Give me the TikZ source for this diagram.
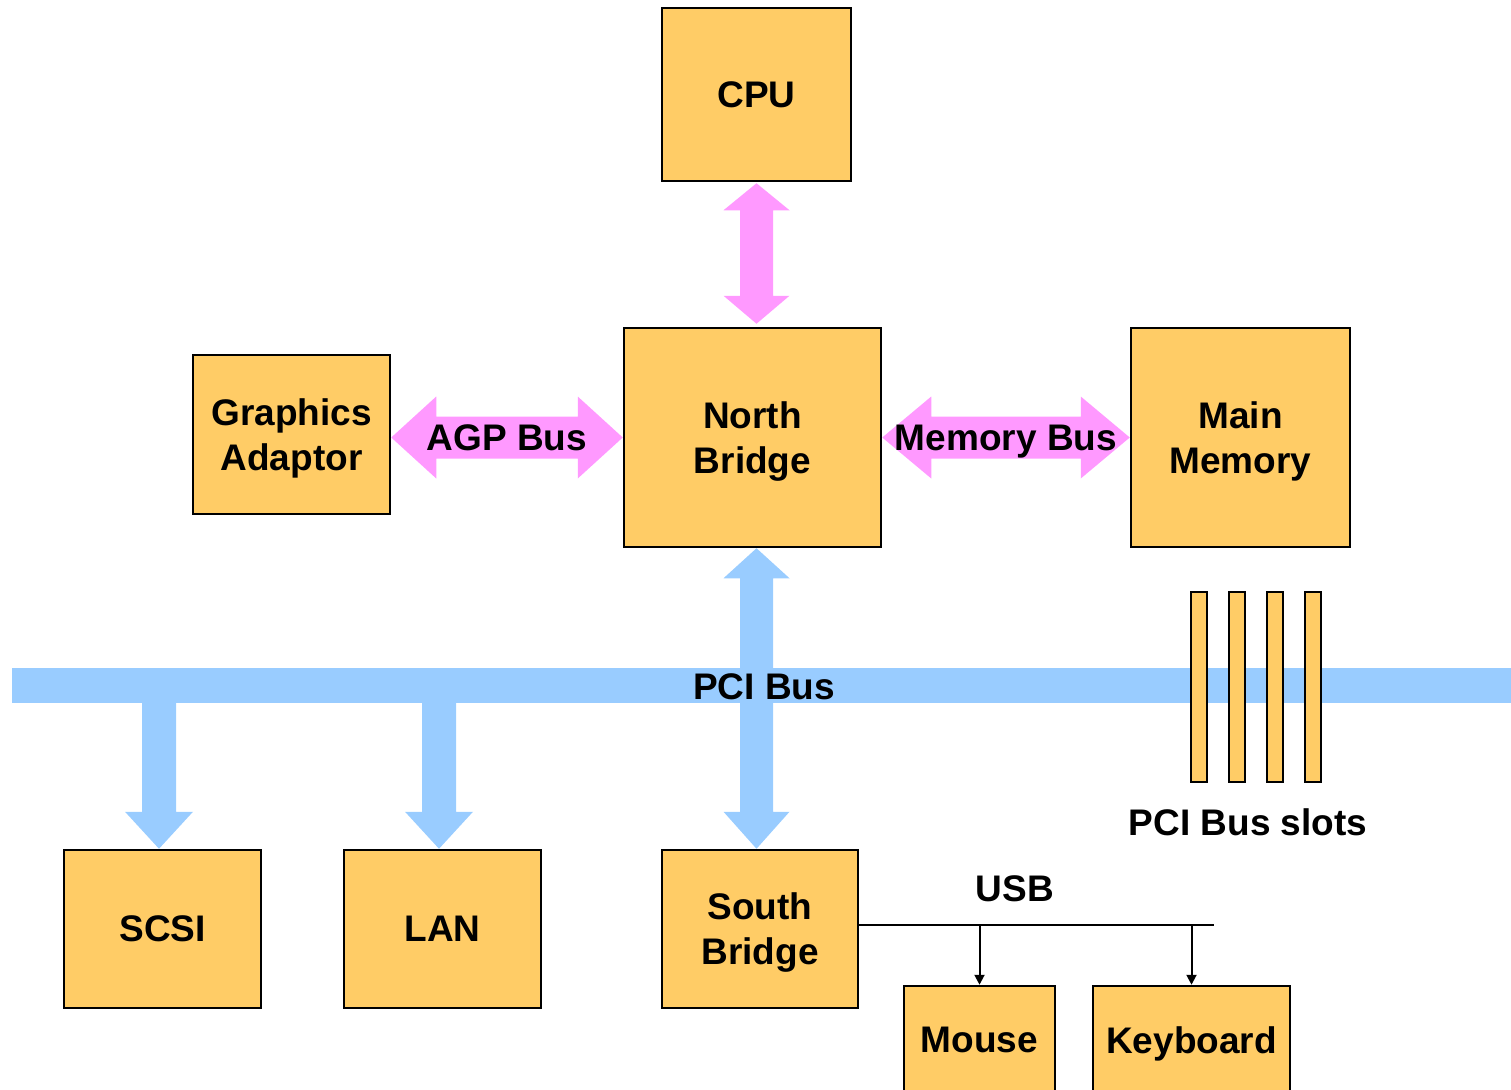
\documentclass[tikz,border=0pt]{standalone}
\usepackage{fontspec}
\setmainfont{Liberation Sans}
\usetikzlibrary{calc,arrows.meta}
\definecolor{boxfill}{HTML}{FFCC66}
\definecolor{pinkbus}{HTML}{FF99FF}
\definecolor{bluebus}{HTML}{99CCFF}
\begin{document}
\begin{tikzpicture}[x=1pt,y=-1pt,
  box/.style={draw=black, line width=2.5pt, fill=boxfill, inner sep=0pt, align=center,
    text depth=0pt, font=\fontsize{37}{45}\selectfont\bfseries},
  slotbox/.style={draw=black, line width=2pt, fill=boxfill, inner sep=0pt,
    minimum width=16pt, minimum height=190pt},
  lbl/.style={inner sep=0pt, text depth=0pt, font=\fontsize{37}{45}\selectfont\bfseries},
  usbline/.style={draw=black, line width=2pt},
  usbarrow/.style={usbline, -{Triangle[length=10pt,width=10pt]}}]
\useasboundingbox (0,0) rectangle (1511,1089);
\clip (0,0) rectangle (1511,1089);

% boxes
\node[box, minimum width=189pt, minimum height=173pt] (cpu) at (756.5,94.5) {CPU};
\node[box, minimum width=257pt, minimum height=219pt] (nb) at (752.5,437.5) {North\\Bridge};
\node[box, minimum width=197pt, minimum height=159pt] (ga) at (291.5,434.5) {Graphics\\Adaptor};
\node[box, minimum width=219pt, minimum height=219pt] (mm) at (1240.5,437.5) {Main\\Memory};
\node[box, minimum width=197pt, minimum height=158pt] (scsi) at (162.5,929) {SCSI};
\node[box, minimum width=197pt, minimum height=158pt] (lan) at (442.5,929) {LAN};
\node[box, minimum width=196pt, minimum height=158pt] (sb) at (760,929) {South\\Bridge};
\node[box, minimum width=151pt, minimum height=108pt] (mouse) at (979.5,1040) {Mouse};
\node[box, minimum width=197pt, minimum height=108pt] (kb) at (1191.5,1040) {Keyboard};

% CPU <-> North Bridge
\coordinate (cs) at ($(cpu.south)+(0,1)$);
\coordinate (nn) at ($(cpu.south |- nb.north)+(0,-3)$);
\fill[pinkbus] (cs) -- ++(33,27) -- ++(-16.5,0)
  -- ($(nn)+(16.5,-28)$) -- ++(16.5,0) -- (nn)
  -- ++(-33,-28) -- ++(16.5,0) -- ($(cs)+(-16.5,27)$) -- ++(-16.5,0) -- cycle;

% AGP bus
\fill[pinkbus] (ga.east |- nb.west) -- ++(45,-41) -- ++(0,20)
  -- ($(nb.west)+(-45,-21)$) -- ++(0,-20) -- (nb.west)
  -- ++(-45,41) -- ++(0,-20) -- ($(ga.east |- nb.west)+(45,21)$) -- ++(0,20) -- cycle;
\node[lbl] (agp) at (507,438) {AGP Bus};

% Memory bus
\fill[pinkbus] (nb.east) -- ++(49,-41) -- ++(0,20)
  -- ($(mm.west)+(-49,-21)$) -- ++(0,-20) -- (mm.west)
  -- ++(-49,41) -- ++(0,-20) -- ($(nb.east)+(49,21)$) -- ++(0,20) -- cycle;
\node[lbl] (membus) at (1006,438) {Memory Bus};

% PCI bus
\node[fill=bluebus, inner sep=0pt, minimum width=1499pt, minimum height=35pt] (pci) at (761.5,685.5) {};

% North Bridge <-> South Bridge
\coordinate (nbs) at (cpu.south |- nb.south);
\coordinate (sbn) at (cpu.south |- sb.north);
\fill[bluebus] (nbs) -- ++(33,30) -- ++(-16.5,0)
  -- ($(sbn)+(16.5,-37)$) -- ++(16.5,0) -- (sbn)
  -- ++(-33,-37) -- ++(16.5,0) -- ($(nbs)+(-16.5,30)$) -- ++(-16.5,0) -- cycle;

% drops to SCSI and LAN
\coordinate (sd) at ($(scsi.north)+(-3.5,0)$);
\fill[bluebus] ($(sd |- pci.south)+(-17,0)$) -- ++(34,0) -- ($(sd)+(17,-37)$) -- ++(17,0)
  -- (sd) -- ++(-34,-37) -- ++(17,0) -- cycle;
\coordinate (ld) at ($(lan.north)+(-3.5,0)$);
\fill[bluebus] ($(ld |- pci.south)+(-17,0)$) -- ++(34,0) -- ($(ld)+(17,-37)$) -- ++(17,0)
  -- (ld) -- ++(-34,-37) -- ++(17,0) -- cycle;

% PCI slots
\node[slotbox] (s1) at (1199,687) {};
\node[slotbox] (s2) at (1236.5,687) {};
\node[slotbox] (s3) at (1274.5,687) {};
\node[slotbox] (s4) at (1312.5,687) {};
\node[lbl] (slotlbl) at (1248,822) {PCI Bus slots};

\node[lbl] (pcilbl) at (764,687) {PCI Bus};

% USB
\coordinate (usbstart) at ($(sb.east)+(0,-4)$);
\coordinate (usbend) at (1214,925);
\draw[usbline] (usbstart) -- (usbend);
\draw[usbarrow] (mouse.north |- usbend) -- (mouse.north);
\draw[usbarrow] (kb.north |- usbend) -- (kb.north);
\node[lbl] (usblbl) at (1015,889) {USB};
\end{tikzpicture}
\end{document}
